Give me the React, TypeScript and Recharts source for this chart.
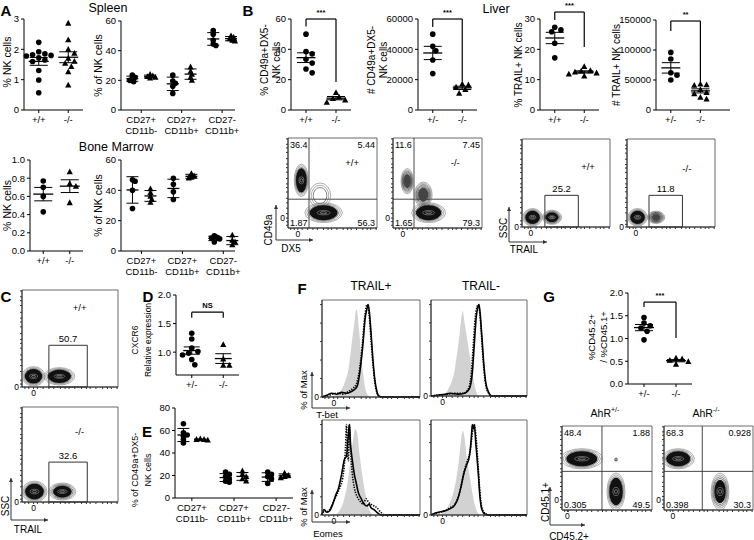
import React from 'react';
import {
  ScatterChart,
  Scatter,
  XAxis,
  YAxis,
  ErrorBar,
  ReferenceLine,
  ReferenceArea,
  ComposedChart,
  Area,
  Line,
} from 'recharts';

const FONT = '"Liberation Sans", Arial, Helvetica, sans-serif';

// ---------- labels ----------
const genoWT = [['+/+'], ['-/-']];
const genoHet = [['+/-'], ['-/-']];
const subsets = [['CD27+', 'CD11b-'], ['CD27+', 'CD11b+'], ['CD27-', 'CD11b+']];

// ---------- A: spleen / bone marrow ----------
const spleenNkWT = [2.23, 1.92, 1.85, 1.82, 1.8, 1.78, 1.72, 1.65, 1.6, 1.3, 0.99, 0.57];
const spleenNkKO = [2.86, 2.31, 2.0, 1.87, 1.7, 1.6, 1.54, 1.43, 1.26, 0.82];
const spleenSubWT = [[23.5, 22, 21, 20, 19], [23.5, 19.5, 18, 16, 11.2], [53.5, 51, 47, 44.5, 43.5]];
const spleenSubKO = [[24, 23, 22.5, 22, 21.5], [29, 26, 24, 22, 20], [50, 49, 48, 47, 46.5]];
const bmNkWT = [0.77, 0.7, 0.6, 0.43];
const bmNkKO = [0.87, 0.74, 0.71, 0.53];
const bmSubWT = [[47, 46, 40, 28], [48, 44, 39, 34], [10, 9, 8.5, 8, 6]];
const bmSubKO = [[41, 38.5, 36, 34, 32], [51, 49.5, 48.5, 48], [10.5, 7, 6, 4]];

// ---------- B: liver ----------
const cd49aPctWT = [50, 38.5, 37, 33.5, 31, 27, 24.5];
const cd49aPctKO = [11.5, 8.5, 7.5, 6.5, 5];
const cd49aNumWT = [50000, 42000, 39000, 33000, 24000];
const cd49aNumKO = [17000, 16500, 15000, 13500, 11000];
const trailPctWT = [27.3, 26.4, 25.8, 22, 17.2];
const trailPctKO = [14.3, 13, 12.8, 12.5, 12.2, 11.8, 11.2];
const trailNumWT = [96000, 85000, 62000, 58000, 50000];
const trailNumKO = [43000, 42000, 41000, 34000, 29000, 27000, 21000, 18000];

// ---------- D, E, G ----------
const cxcr6WT = [1.33, 1.23, 1.07, 1.01, 0.98, 0.95, 0.87, 0.78];
const cxcr6KO = [1.13, 0.88, 0.77, 0.77];
const trailSubWT = [[66, 58, 56, 55, 52, 49], [23, 21, 19, 17, 15, 14], [23, 21, 19, 17, 13]];
const trailSubKO = [[52.5, 52, 52, 51.5], [24, 21, 19, 17, 15], [22, 20, 19, 18]];
const chimeraWT = [1.46, 1.34, 1.28, 1.23, 1.16, 0.97];
const chimeraKO = [0.57, 0.55, 0.52, 0.49, 0.43];

// ---------- flow quadrant / gate values ----------
const fb1Quad = ['36.4', '5.44', '1.87', '56.3'];
const fb2Quad = ['11.6', '7.45', '1.65', '79.3'];
const fg1Quad = ['48.4', '1.88', '0.305', '49.5'];
const fg2Quad = ['68.3', '0.928', '0.398', '30.3'];
const trailGateB = ['25.2', '11.8'];
const trailGateC = ['50.7', '32.6'];

// populations: centre (x, y in % of axis), spread (rx, ry in %), density of core
const fb1Pops = [
  { x: 36, y: 36, rx: 12, ry: 14, d: 0 },
  { x: 15, y: 53, rx: 8, ry: 18, d: 1 },
  { x: 40, y: 17, rx: 21, ry: 11, d: 1 },
];
const fb2Pops = [
  { x: 16, y: 52, rx: 7, ry: 14, d: 0.5 },
  { x: 34, y: 37, rx: 10, ry: 14, d: 0.5 },
  { x: 40, y: 17, rx: 19, ry: 11, d: 1 },
];
const fb3Pops = [{ x: 12, y: 11, rx: 11, ry: 10, d: 1 }, { x: 34, y: 11, rx: 11, ry: 8, d: 0.8 }];
const fb4Pops = [{ x: 12, y: 11, rx: 11, ry: 10, d: 1 }, { x: 33, y: 11, rx: 10, ry: 7, d: 0.3 }];
const fc1Pops = [{ x: 12, y: 11, rx: 12, ry: 10, d: 1 }, { x: 39, y: 11, rx: 16, ry: 9, d: 1 }];
const fc2Pops = [{ x: 13, y: 11, rx: 13, ry: 11, d: 1 }, { x: 42, y: 11, rx: 14, ry: 9, d: 0.85 }];
const fg1Pops = [
  { x: 22, y: 61, rx: 23, ry: 12, d: 1 },
  { x: 60, y: 22, rx: 10, ry: 22, d: 1 },
  { x: 60, y: 60, rx: 1.6, ry: 2, d: 0 },
];
const fg2Pops = [{ x: 16, y: 61, rx: 18, ry: 12, d: 1 }, { x: 63, y: 22, rx: 10, ry: 22, d: 0.7 }];

// ---------- F histograms: [channel %, % of max] ----------
const tbetPosIso = [[0, 0], [12, 1], [16, 3], [20, 8], [24, 18], [27, 30], [30, 55], [33, 80], [35, 95], [36, 92], [38, 70], [40, 45], [42, 25], [44, 10], [47, 2], [50, 0], [100, 0]];
const tbetPosWT = [[0, 0], [5, 2], [10, 4], [15, 3], [20, 5], [25, 4], [30, 6], [33, 8], [36, 12], [39, 30], [42, 60], [44, 85], [46, 96], [47, 100], [48, 95], [50, 70], [52, 40], [54, 18], [56, 6], [58, 1], [62, 0], [100, 0]];
const tbetPosKO = [[0, 0], [6, 1], [10, 3], [16, 4], [22, 3], [27, 6], [31, 9], [35, 14], [38, 28], [41, 55], [43, 80], [45, 97], [46, 100], [48, 90], [50, 62], [52, 35], [54, 15], [56, 5], [59, 0], [100, 0]];
const tbetNegIso = [[0, 0], [12, 1], [16, 4], [20, 12], [24, 25], [27, 45], [30, 70], [32, 88], [33, 93], [35, 80], [38, 60], [41, 40], [44, 20], [47, 5], [50, 0], [100, 0]];
const tbetNegWT = [[0, 0], [8, 1], [15, 2], [20, 3], [28, 2], [35, 3], [40, 8], [43, 25], [45, 55], [47, 85], [49, 98], [50, 100], [51, 92], [53, 65], [55, 35], [57, 15], [60, 4], [63, 0], [100, 0]];
const tbetNegKO = [[0, 0], [10, 1], [18, 2], [26, 3], [34, 3], [39, 8], [42, 25], [44, 55], [46, 85], [48, 98], [49, 100], [51, 90], [53, 60], [55, 30], [57, 12], [60, 3], [63, 0], [100, 0]];
const eomesPosIso = [[0, 0], [14, 1], [18, 5], [22, 15], [26, 35], [29, 60], [32, 85], [34, 95], [36, 90], [38, 70], [41, 45], [44, 25], [47, 10], [50, 2], [53, 0], [100, 0]];
const eomesPosWT = [[0, 0], [2, 6], [5, 3], [8, 5], [11, 12], [14, 22], [17, 30], [20, 45], [23, 62], [25, 65], [27, 90], [28, 100], [29, 80], [31, 60], [33, 45], [35, 35], [37, 25], [40, 18], [43, 12], [46, 10], [48, 12], [50, 8], [53, 6], [56, 3], [60, 0], [100, 0]];
const eomesPosKO = [[0, 0], [3, 5], [6, 4], [9, 8], [12, 15], [15, 22], [18, 30], [21, 40], [24, 75], [25, 100], [26, 70], [27, 60], [28, 100], [29, 75], [31, 45], [33, 30], [36, 20], [39, 15], [42, 12], [45, 18], [47, 15], [50, 12], [53, 10], [56, 8], [60, 3], [64, 0], [100, 0]];
const eomesNegIso = [[0, 0], [10, 1], [14, 4], [18, 10], [22, 20], [26, 38], [29, 60], [31, 80], [33, 93], [35, 85], [37, 65], [40, 45], [43, 25], [46, 10], [49, 2], [52, 0], [100, 0]];
const eomesNegWT = [[0, 0], [4, 2], [8, 3], [12, 4], [16, 5], [20, 7], [24, 10], [28, 18], [31, 30], [34, 45], [37, 55], [40, 65], [42, 85], [43, 100], [44, 95], [45, 100], [47, 75], [49, 50], [51, 20], [53, 6], [56, 1], [60, 0], [100, 0]];
const eomesNegKO = [[0, 0], [5, 2], [10, 3], [15, 5], [20, 8], [25, 12], [29, 22], [32, 35], [35, 50], [38, 60], [41, 72], [43, 90], [45, 100], [47, 85], [49, 55], [51, 25], [53, 8], [56, 2], [60, 0], [100, 0]];

// axis tick positions for cytometry plots
const flowTicks = [3, 7, 16, 22, 28, 33, 40, 45, 49, 55, 62, 67, 71, 77, 84, 89, 93, 99];
const histYTicks = [0, 20, 40, 60, 80, 100];

// ---------- helpers ----------
const mean = (a: number[]) => a.reduce((s, v) => s + v, 0) / a.length;
const sd = (a: number[]) => {
  const m = mean(a);
  return Math.sqrt(a.reduce((s, v) => s + (v - m) ** 2, 0) / (a.length - 1));
};

// spread points sideways so they don't overlap too much (px offsets)
function swarm(vals: number[], pxY: number, diam: number) {
  const order = vals.map((_, i) => i).sort((a, b) => vals[b] - vals[a]);
  const placed: { ox: number; oy: number }[] = [];
  const out = new Array(vals.length).fill(0);
  for (const i of order) {
    const oy = vals[i] * pxY;
    for (let k = 0; k < 30; k++) {
      const ox = k === 0 ? 0 : (k % 2 ? 1 : -1) * Math.ceil(k / 2) * diam * 0.55;
      if (placed.every((q) => Math.hypot(q.ox - ox, q.oy - oy) >= diam * 0.95)) {
        placed.push({ ox, oy });
        out[i] = ox;
        break;
      }
    }
  }
  return out;
}

const circleShape = (p: any) => <circle cx={p.cx} cy={p.cy} r={2.8} fill="#000" />;
const triShape = (p: any) => (
  <path d={`M${p.cx},${p.cy - 3.4}L${p.cx + 3.1},${p.cy + 2.4}L${p.cx - 3.1},${p.cy + 2.4}Z`} fill="#000" />
);
const meanShape = (w: number) => (p: any) => (
  <line x1={p.cx - w / 2} x2={p.cx + w / 2} y1={p.cy} y2={p.cy} stroke="#000" strokeWidth={1.3} />
);

function CatTick(props: any) {
  const { x, y, payload, labels } = props;
  const lines: string[] = labels[Math.round(payload.value)] || [];
  return (
    <text x={x} y={y} textAnchor="middle" fontSize={9.5} fontFamily={FONT} fill="#000">
      {lines.map((l, i) => (
        <tspan key={i} x={x} dy={i === 0 ? 7.5 : 11}>
          {l}
        </tspan>
      ))}
    </text>
  );
}

type DotPlotProps = {
  x: number;
  y: number;
  w: number;
  h: number;
  yDomain: [number, number];
  yTicks: number[];
  yFmt?: (v: number) => string;
  xDomain?: [number, number];
  labels: string[][];
  groups: number[][][];
  err: 'sem' | 'sd';
  meanW: number;
  capW: number;
  offset?: number;
  spread?: number;
  bracket?: number[];
  sig?: string;
  ylab: string[];
  ylabX: number[];
  ylabY?: number;
  ylabFs?: number;
};

function DotPlot(p: DotPlotProps) {
  const L = 48, T = 24, R = 14, B = 34;
  const xDom = p.xDomain ?? [-0.5, 1.5];
  const pxX = p.w / (xDom[1] - xDom[0]);
  const pxY = p.h / (p.yDomain[1] - p.yDomain[0]);
  const off = p.offset ?? 0.22;
  const series: { kind: number; data: { x: number; y: number }[] }[] = [];
  const means: { x: number; y: number; err: number }[] = [];
  p.groups.forEach((cat, ci) =>
    cat.forEach((vals, si) => {
      const c = cat.length > 1 ? ci + (si === 0 ? -off : off) : ci;
      const ox = swarm(vals, pxY, p.spread ?? 5.6);
      series.push({
        kind: (cat.length > 1 ? si : ci) % 2,
        data: vals.map((v, i) => ({ x: c + ox[i] / pxX, y: v })),
      });
      const s = sd(vals);
      means.push({ x: c, y: mean(vals), err: p.err === 'sd' ? s : s / Math.sqrt(vals.length) });
    })
  );
  const W = L + p.w + R, H = T + p.h + B;
  const axisStyle = { stroke: '#000', strokeWidth: 1 };
  const bk = p.bracket;
  const sigX = p.x + (0.5 - xDom[0]) * pxX;
  const sigY = bk ? p.y + (p.yDomain[1] - bk[1]) * pxY - 4 : 0;
  const ly = p.ylabY ?? p.y + p.h / 2;
  const fs = p.ylabFs ?? 10.5;
  return (
    <>
      <div style={{ position: 'absolute', left: p.x - L, top: p.y - T }}>
        <ScatterChart width={W} height={H} margin={{ top: T, right: R, bottom: 0, left: 0 }}>
          <XAxis
            type="number"
            dataKey="x"
            domain={xDom}
            ticks={p.labels.map((_, i) => i)}
            interval={0}
            height={B}
            tickSize={3}
            axisLine={axisStyle}
            tickLine={axisStyle}
            tick={(t: any) => <CatTick {...t} labels={p.labels} />}
          />
          <YAxis
            type="number"
            dataKey="y"
            domain={p.yDomain}
            ticks={p.yTicks}
            interval={0}
            width={L}
            tickSize={3}
            axisLine={axisStyle}
            tickLine={axisStyle}
            tick={{ fontSize: 9.5, fill: '#000', fontFamily: FONT }}
            tickFormatter={p.yFmt}
          />
          {series.map((s, i) => (
            <Scatter key={'s' + i} data={s.data} shape={s.kind ? triShape : circleShape} isAnimationActive={false} />
          ))}
          {means.map((m, i) => (
            <Scatter key={'m' + i} data={[m]} shape={meanShape(p.meanW)} isAnimationActive={false}>
              <ErrorBar dataKey="err" direction="y" width={p.capW} stroke="#000" strokeWidth={1} />
            </Scatter>
          ))}
          {bk && (
            <ReferenceLine segment={[{ x: 0, y: bk[0] }, { x: 0, y: bk[1] }]} stroke="#000" strokeWidth={1.2} ifOverflow="visible" />
          )}
          {bk && (
            <ReferenceLine segment={[{ x: 0, y: bk[1] }, { x: 1, y: bk[1] }]} stroke="#000" strokeWidth={1.2} ifOverflow="visible" />
          )}
          {bk && (
            <ReferenceLine segment={[{ x: 1, y: bk[1] }, { x: 1, y: bk[2] }]} stroke="#000" strokeWidth={1.2} ifOverflow="visible" />
          )}
        </ScatterChart>
      </div>
      <svg width={754} height={540} style={{ position: 'absolute', left: 0, top: 0, pointerEvents: 'none' }}>
        {p.ylab.map((t, i) => (
          <text
            key={i}
            transform={`translate(${p.ylabX[i]},${ly}) rotate(-90)`}
            textAnchor="middle"
            dominantBaseline="central"
            fontSize={fs}
            fontFamily={FONT}
          >
            {t}
          </text>
        ))}
        {p.sig && (
          <text x={sigX} y={sigY} textAnchor="middle" fontSize={7.5} fontFamily={FONT} fontWeight="bold">
            {p.sig}
          </text>
        )}
      </svg>
    </>
  );
}

// concentric contour rings for one population
const popShape = (kx: number, ky: number) => (props: any) => {
  const { cx, cy, payload } = props;
  const rx = payload.rx * kx, ry = payload.ry * ky, d = payload.d;
  const rings = d > 0 ? [1, 0.9, 0.8, 0.71, 0.62, 0.54, 0.46, 0.38] : [1, 0.82, 0.64];
  const core = d > 0 ? 0.35 + 0.4 * d : 0;
  return (
    <g>
      {rings.map((s, i) => (
        <ellipse key={i} cx={cx} cy={cy} rx={rx * s} ry={ry * s} fill="none" stroke={i < 2 ? '#777' : '#333'} strokeWidth={0.6} />
      ))}
      {d > 0 && <ellipse cx={cx} cy={cy} rx={rx * core} ry={ry * core} fill={d > 0.6 ? '#111' : '#444'} />}
      {d > 0.6 && (
        <ellipse cx={cx} cy={cy} rx={rx * 0.35} ry={ry * 0.22} fill="none" stroke="#999" strokeWidth={0.6} />
      )}
      {d > 0.6 && <ellipse cx={cx} cy={cy} rx={rx * 0.18} ry={ry * 0.1} fill="none" stroke="#ccc" strokeWidth={0.5} />}
    </g>
  );
};

type FlowProps = {
  x: number;
  y: number;
  w: number;
  h: number;
  pops: { x: number; y: number; rx: number; ry: number; d: number }[];
  quadX?: number;
  quadY?: number;
  quad?: string[];
  gate?: number[];
  gateLabel?: string;
  geno?: string;
  genoPos?: number[];
  xZero: number;
  yZero: number;
};

function Flow(p: FlowProps) {
  const L = 14, T = 4, R = 4, B = 14;
  const axisStyle = { stroke: '#333', strokeWidth: 1 };
  const xTicks = [...flowTicks, p.xZero].sort((a, b) => a - b);
  const yTicks = [...flowTicks, p.yZero].sort((a, b) => a - b);
  const fmt = (z: number) => (v: number) => (v === z ? '0' : '');
  const tickFont = { fontSize: 8.5, fill: '#000', fontFamily: FONT };
  const gl = p.gate;
  return (
    <>
      <div style={{ position: 'absolute', left: p.x - L, top: p.y - T }}>
        <ScatterChart width={L + p.w + R} height={T + p.h + B} margin={{ top: T, right: R, bottom: 0, left: 0 }}>
          <XAxis type="number" dataKey="x" domain={[0, 100]} ticks={xTicks} interval={0} height={B} tickSize={2} tickMargin={1} axisLine={axisStyle} tickLine={axisStyle} tick={tickFont} tickFormatter={fmt(p.xZero)} />
          <YAxis type="number" dataKey="y" domain={[0, 100]} ticks={yTicks} interval={0} width={L} tickSize={2} tickMargin={1} axisLine={axisStyle} tickLine={axisStyle} tick={tickFont} tickFormatter={fmt(p.yZero)} />
          <ReferenceArea x1={0} x2={100} y1={0} y2={100} fill="none" stroke="#444" strokeWidth={0.8} />
          {p.quadX !== undefined && <ReferenceLine x={p.quadX} stroke="#333" strokeWidth={0.9} />}
          {p.quadY !== undefined && <ReferenceLine y={p.quadY} stroke="#333" strokeWidth={0.9} />}
          {gl && <ReferenceArea x1={gl[0]} x2={gl[1]} y1={0} y2={gl[2]} fill="none" stroke="#333" strokeWidth={1} />}
          <Scatter data={p.pops} shape={popShape(p.w / 100, p.h / 100)} isAnimationActive={false} />
        </ScatterChart>
      </div>
      <svg width={754} height={540} style={{ position: 'absolute', left: 0, top: 0, pointerEvents: 'none' }} fontFamily={FONT}>
        {p.quad && (
          <g fontSize={9}>
            <text x={p.x + 2} y={p.y + 10}>{p.quad[0]}</text>
            <text x={p.x + p.w - 2} y={p.y + 10} textAnchor="end">{p.quad[1]}</text>
            <text x={p.x + 2} y={p.y + p.h - 2}>{p.quad[2]}</text>
            <text x={p.x + p.w - 2} y={p.y + p.h - 2} textAnchor="end">{p.quad[3]}</text>
          </g>
        )}
        {gl && p.gateLabel && (
          <text x={p.x + (p.w * (gl[0] + gl[1])) / 200} y={p.y + p.h * (1 - gl[2] / 100) - 3} textAnchor="middle" fontSize={9.5}>
            {p.gateLabel}
          </text>
        )}
        {p.geno && p.genoPos && (
          <text x={p.x + p.w * p.genoPos[0]} y={p.y + p.h * (1 - p.genoPos[1])} textAnchor="middle" dominantBaseline="central" fontSize={9.5}>
            {p.geno}
          </text>
        )}
      </svg>
    </>
  );
}

const toPts = (a: number[][]) => a.map(([x, y]) => ({ x, y }));

function Histo({ x, y, w, h, iso, wt, ko }: { x: number; y: number; w: number; h: number; iso: number[][]; wt: number[][]; ko: number[][] }) {
  const L = 14, T = 4, R = 4, B = 14;
  const axisStyle = { stroke: '#333', strokeWidth: 1 };
  const tickFont = { fontSize: 8.5, fill: '#000', fontFamily: FONT };
  const xTicks = [...flowTicks, 12].sort((a, b) => a - b);
  return (
    <div style={{ position: 'absolute', left: x - L, top: y - T }}>
      <ComposedChart width={L + w + R} height={T + h + B} margin={{ top: T, right: R, bottom: 0, left: 0 }}>
        <XAxis type="number" dataKey="x" domain={[0, 100]} ticks={xTicks} interval={0} height={B} tickSize={2} tickMargin={1} axisLine={axisStyle} tickLine={axisStyle} tick={tickFont} tickFormatter={(v: number) => (v === 12 ? '0' : '')} />
        <YAxis type="number" domain={[0, 105]} ticks={histYTicks} interval={0} width={L} tickSize={2} tickMargin={1} axisLine={axisStyle} tickLine={axisStyle} tick={tickFont} tickFormatter={(v: number) => (v === 0 ? '0' : '')} />
        <Area data={toPts(iso)} dataKey="y" type="monotone" fill="#d2d2d2" fillOpacity={1} stroke="none" isAnimationActive={false} />
        <Line data={toPts(wt)} dataKey="y" type="monotone" stroke="#000" strokeWidth={1.6} dot={false} isAnimationActive={false} />
        <Line data={toPts(ko)} dataKey="y" type="monotone" stroke="#000" strokeWidth={1.6} strokeDasharray="1.3 1.3" dot={false} isAnimationActive={false} />
        <ReferenceArea x1={0} x2={100} y1={0} y2={105} fill="none" stroke="#444" strokeWidth={0.8} />
      </ComposedChart>
    </div>
  );
}

function Arrow({ x1, y1, x2, y2 }: { x1: number; y1: number; x2: number; y2: number }) {
  const a = Math.atan2(y2 - y1, x2 - x1);
  const s = 4;
  const p1 = [x2 - s * Math.cos(a) + 2 * Math.sin(a), y2 - s * Math.sin(a) - 2 * Math.cos(a)];
  const p2 = [x2 - s * Math.cos(a) - 2 * Math.sin(a), y2 - s * Math.sin(a) + 2 * Math.cos(a)];
  return (
    <g>
      <line x1={x1} y1={y1} x2={x2} y2={y2} stroke="#333" strokeWidth={1} />
      <path d={`M${x2},${y2}L${p1[0]},${p1[1]}L${p2[0]},${p2[1]}Z`} fill="#333" />
    </g>
  );
}

const f1 = (v: number) => v.toFixed(1);

export default function App() {
  const letter = { fontSize: 15, fontWeight: 'bold' as const };
  return (
    <div style={{ position: 'absolute', left: 0, top: 0, width: 754, height: 540, background: '#fff', overflow: 'hidden', fontFamily: FONT }}>
      {/* A */}
      <DotPlot x={24} y={19} w={59} h={91} yDomain={[0, 3]} yTicks={[0, 1, 2, 3]} labels={genoWT} groups={[[spleenNkWT], [spleenNkKO]]} err="sem" meanW={20} capW={9} ylab={['% NK cells']} ylabX={[7]} ylabY={62} />
      <DotPlot x={121} y={21} w={114} h={89} yDomain={[0, 60]} yTicks={[0, 20, 40, 60]} labels={subsets} groups={spleenSubWT.map((v, i) => [v, spleenSubKO[i]])} err="sd" meanW={12} capW={6} spread={3.4} ylab={['% of NK cells']} ylabX={[98]} />
      <DotPlot x={30} y={160} w={53} h={91} yDomain={[0, 1]} yTicks={[0, 0.2, 0.4, 0.6, 0.8, 1]} yFmt={f1} labels={genoWT} groups={[[bmNkWT], [bmNkKO]]} err="sem" meanW={20} capW={9} ylab={['% NK cells']} ylabX={[7]} />
      <DotPlot x={121} y={160} w={114} h={91} yDomain={[0, 60]} yTicks={[0, 20, 40, 60]} labels={subsets} groups={bmSubWT.map((v, i) => [v, bmSubKO[i]])} err="sd" meanW={12} capW={6} spread={3.4} ylab={['% of NK cells']} ylabX={[98]} />

      {/* B */}
      <DotPlot x={291} y={19} w={60} h={91} yDomain={[0, 60]} yTicks={[0, 20, 40, 60]} labels={genoWT} groups={[[cd49aPctWT], [cd49aPctKO]]} err="sem" meanW={19} capW={9} bracket={[55, 60, 18.5]} sig="***" ylab={['% CD49a+DX5-', 'NK cells']} ylabX={[264, 276]} ylabY={60} ylabFs={10} />
      <DotPlot x={418} y={19} w={59} h={91} yDomain={[0, 60000]} yTicks={[0, 20000, 40000, 60000]} labels={genoHet} groups={[[cd49aNumWT], [cd49aNumKO]]} err="sem" meanW={19} capW={9} bracket={[54700, 60000, 19000]} sig="***" ylab={['# CD49a+DX5-', 'NK cells']} ylabX={[371, 383]} ylabY={60} ylabFs={10} />
      <DotPlot x={540} y={19} w={59} h={91} yDomain={[0, 30]} yTicks={[0, 10, 20, 30]} labels={genoWT} groups={[[trailPctWT], [trailPctKO]]} err="sem" meanW={19} capW={9} bracket={[29.7, 32.3, 20.8]} sig="***" ylab={['% TRAIL+ NK cells']} ylabX={[518]} ylabY={65} ylabFs={10} />
      <DotPlot x={656} y={20} w={74} h={90} yDomain={[0, 150000]} yTicks={[0, 50000, 100000, 150000]} xDomain={[-0.5, 2]} labels={genoHet} groups={[[trailNumWT], [trailNumKO]]} err="sem" meanW={19} capW={9} bracket={[131700, 148300, 46700]} sig="**" ylab={['# TRAIL+ NK cells']} ylabX={[616]} ylabY={65} ylabFs={10} />

      <Flow x={288} y={138} w={89} h={90} pops={fb1Pops} quadX={23.6} quadY={32} quad={fb1Quad} geno="+/+" genoPos={[0.72, 0.73]} xZero={11} yZero={11} />
      <Flow x={393} y={138} w={89} h={90} pops={fb2Pops} quadX={23.6} quadY={32} quad={fb2Quad} geno="-/-" genoPos={[0.7, 0.73]} xZero={11} yZero={11} />
      <Flow x={522} y={139} w={88} h={88} pops={fb3Pops} gate={[26, 64, 36]} gateLabel={trailGateB[0]} geno="+/+" genoPos={[0.75, 0.69]} xZero={10} yZero={0} />
      <Flow x={627} y={139} w={88} h={88} pops={fb4Pops} gate={[25, 63, 36]} gateLabel={trailGateB[1]} geno="-/-" genoPos={[0.68, 0.67]} xZero={10} yZero={0} />

      {/* C */}
      <Flow x={22} y={290} w={96} h={97} pops={fc1Pops} gate={[28, 68, 43]} gateLabel={trailGateC[0]} geno="+/+" genoPos={[0.6, 0.82]} xZero={12} yZero={0} />
      <Flow x={22} y={407} w={96} h={95} pops={fc2Pops} gate={[28, 68, 42]} gateLabel={trailGateC[1]} geno="-/-" genoPos={[0.6, 0.74]} xZero={12} yZero={0} />

      {/* D, E */}
      <DotPlot x={176} y={295} w={63} h={80} yDomain={[0.6, 2]} yTicks={[1, 1.5, 2]} yFmt={f1} labels={genoHet} groups={[[cxcr6WT], [cxcr6KO]]} err="sem" meanW={17} capW={8} bracket={[1.6, 1.7, 1.6]} sig="NS" ylab={['CXCR6', 'Relative expression']} ylabX={[135, 148]} ylabY={340} ylabFs={8.5} />
      <DotPlot x={175} y={408} w={118} h={90} yDomain={[0, 80]} yTicks={[0, 20, 40, 60, 80]} xDomain={[-0.4, 2.4]} offset={0.2} spread={3.4} labels={subsets} groups={trailSubWT.map((v, i) => [v, trailSubKO[i]])} err="sd" meanW={12} capW={6} ylab={['% of CD49a+DX5-', 'NK cells']} ylabX={[135, 148]} ylabY={470} ylabFs={9} />

      {/* F */}
      <Histo x={322} y={300} w={98} h={97} iso={tbetPosIso} wt={tbetPosWT} ko={tbetPosKO} />
      <Histo x={431} y={300} w={96} h={96} iso={tbetNegIso} wt={tbetNegWT} ko={tbetNegKO} />
      <Histo x={322} y={420} w={98} h={95} iso={eomesPosIso} wt={eomesPosWT} ko={eomesPosKO} />
      <Histo x={431} y={420} w={96} h={95} iso={eomesNegIso} wt={eomesNegWT} ko={eomesNegKO} />

      {/* G */}
      <DotPlot x={628} y={293} w={64} h={91} yDomain={[0, 2]} yTicks={[0, 0.5, 1, 1.5, 2]} yFmt={f1} labels={genoHet} groups={[[chimeraWT], [chimeraKO]]} err="sem" meanW={20} capW={9} bracket={[1.69, 1.8, 1.01]} sig="***" ylab={['%CD45.2+', '/ %CD45.1+']} ylabX={[591, 603]} ylabY={337} ylabFs={9.5} />
      <Flow x={562} y={426} w={90} h={84} pops={fg1Pops} quadX={44.4} quadY={46} quad={fg1Quad} xZero={6} yZero={12} />
      <Flow x={664} y={426} w={89} h={84} pops={fg2Pops} quadX={43} quadY={46} quad={fg2Quad} xZero={10} yZero={12} />

      {/* letters, titles, axis names */}
      <svg width={754} height={540} style={{ position: 'absolute', left: 0, top: 0, pointerEvents: 'none' }} fontFamily={FONT}>
        <g dominantBaseline="central" textAnchor="middle">
          <text x={6} y={10} {...letter}>A</text>
          <text x={248} y={10} {...letter}>B</text>
          <text x={6} y={296} {...letter}>C</text>
          <text x={148} y={296} {...letter}>D</text>
          <text x={147} y={431} {...letter}>E</text>
          <text x={302} y={288} {...letter}>F</text>
          <text x={549} y={296} {...letter}>G</text>
          <text x={108} y={8} fontSize={12.5}>Spleen</text>
          <text x={116} y={147} fontSize={12.5}>Bone Marrow</text>
          <text x={496} y={9} fontSize={12.5}>Liver</text>
          <text x={371} y={286} fontSize={12}>TRAIL+</text>
          <text x={481} y={286} fontSize={12}>TRAIL-</text>
          <text x={605} y={413} fontSize={10.5}>
            AhR<tspan fontSize={7} dy={-4}>+/-</tspan>
          </text>
          <text x={706} y={413} fontSize={10.5}>
            AhR<tspan fontSize={7} dy={-4}>-/-</tspan>
          </text>
        </g>
        <g fontSize={10} dominantBaseline="central" textAnchor="middle">
          <text transform="translate(268,230) rotate(-90)">CD49a</text>
          <text x={291} y={248}>DX5</text>
          <text transform="translate(503,228) rotate(-90)">SSC</text>
          <text x={524} y={249}>TRAIL</text>
          <text transform="translate(5,506) rotate(-90)">SSC</text>
          <text x={28} y={529}>TRAIL</text>
          <text transform="translate(303,390) rotate(-90)" fontSize={9.5}>% of Max</text>
          <text x={327} y={414} fontSize={9.5}>T-bet</text>
          <text transform="translate(303,507) rotate(-90)" fontSize={9.5}>% of Max</text>
          <text x={328} y={533} fontSize={9.5}>Eomes</text>
          <text transform="translate(545,502) rotate(-90)">CD45.1+</text>
          <text x={569} y={536}>CD45.2+</text>
        </g>
        <Arrow x1={276} y1={240} x2={276} y2={205} />
        <Arrow x1={276} y1={240} x2={313} y2={240} />
        <Arrow x1={509} y1={242} x2={509} y2={207} />
        <Arrow x1={509} y1={242} x2={547} y2={242} />
        <Arrow x1={11} y1={520} x2={11} y2={478} />
        <Arrow x1={11} y1={520} x2={48} y2={520} />
        <Arrow x1={312} y1={408} x2={312} y2={372} />
        <Arrow x1={312} y1={408} x2={350} y2={408} />
        <Arrow x1={312} y1={522} x2={312} y2={490} />
        <Arrow x1={312} y1={522} x2={350} y2={522} />
        <Arrow x1={550} y1={525} x2={550} y2={487} />
        <Arrow x1={550} y1={525} x2={585} y2={525} />
      </svg>
    </div>
  );
}
